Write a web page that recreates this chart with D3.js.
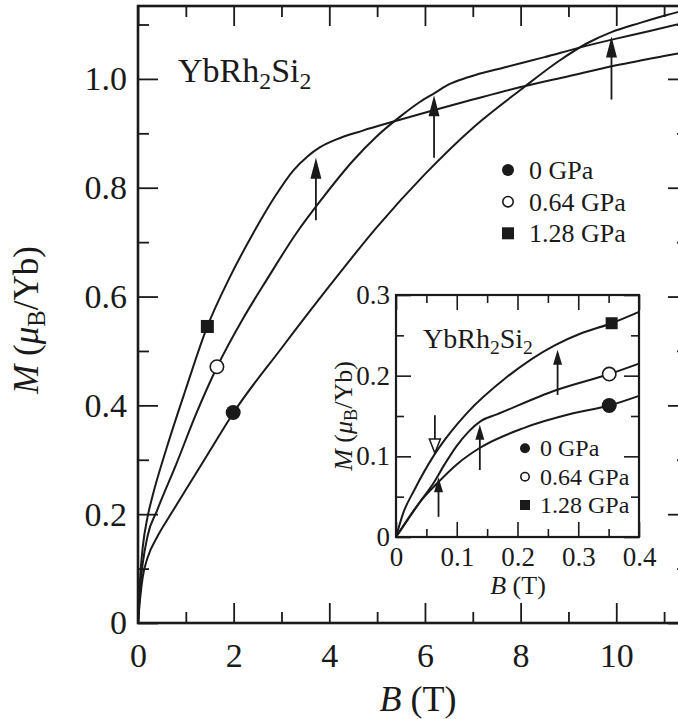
<!DOCTYPE html>
<html>
<head>
<meta charset="utf-8">
<script src="https://cdn.jsdelivr.net/npm/d3@7"></script>
<style>
body { margin: 0; background: #fff; }
svg { display: block; font-family: "Liberation Serif", "Times New Roman", serif; }
</style>
</head>
<body>
<svg id="chart" width="678" height="719"></svg>
<script>
// series labels
var pressures = ["0 GPa", "0.64 GPa", "1.28 GPa"];

// main panel: [B (T), M (muB/Yb)]
var main0 = [[0,0],[0.05,0.05],[0.1,0.085],[0.2,0.12],[0.4,0.158],[0.7,0.202],[1.0,0.245],[1.5,0.316],
	[2.0,0.387],[3.0,0.505],[4.0,0.619],[5.0,0.728],[6.0,0.825],[7.0,0.91],[8.0,0.98],[8.8,1.033],
	[9.4,1.066],[9.9,1.086],[10.5,1.103],[11.0,1.116],[11.5,1.128]];
var main064 = [[0,0],[0.05,0.07],[0.1,0.11],[0.2,0.16],[0.4,0.207],[0.8,0.292],[1.2,0.381],[1.65,0.47],
	[2.2,0.56],[2.7,0.632],[3.3,0.715],[3.85,0.78],[4.5,0.85],[5.0,0.895],[5.5,0.932],[5.9,0.958],
	[6.2,0.974],[6.5,0.99],[6.9,1.003],[7.7,1.022],[8.5,1.04],[9.25,1.058],[10,1.074],[10.7,1.088],[11.5,1.105]];
var main128 = [[0,0],[0.05,0.09],[0.1,0.14],[0.2,0.195],[0.3,0.232],[0.6,0.322],[1.0,0.43],[1.45,0.545],
	[1.9,0.632],[2.4,0.715],[2.85,0.782],[3.25,0.832],[3.55,0.858],[3.8,0.874],[4.15,0.889],[4.7,0.905],
	[5.4,0.923],[6.2,0.943],[7.0,0.962],[8.0,0.985],[9.0,1.005],[10.0,1.025],[11.0,1.042],[11.5,1.05]];
var mainPoints = [[1.99,0.387],[1.65,0.471],[1.45,0.545]];
// arrows: [B, M from, M to]
var mainArrows = [[3.72,0.74,0.855],[6.19,0.855,0.97],[9.9,0.962,1.078]];

// inset panel
var inset0 = [[0,0],[0.02,0.023],[0.04,0.044],[0.067,0.066],[0.1,0.09],[0.137,0.11],[0.21,0.135],
	[0.29,0.153],[0.351,0.163],[0.4,0.175]];
var inset064 = [[0,0],[0.02,0.022],[0.04,0.044],[0.061,0.066],[0.08,0.09],[0.1,0.113],[0.12,0.131],
	[0.14,0.144],[0.166,0.152],[0.263,0.182],[0.351,0.202],[0.4,0.215]];
var inset128 = [[0,0],[0.012,0.03],[0.03,0.058],[0.064,0.103],[0.09,0.13],[0.116,0.153],[0.182,0.198],
	[0.262,0.238],[0.303,0.252],[0.355,0.265],[0.4,0.279]];
var insetPoints = [[0.351,0.163],[0.351,0.202],[0.355,0.265]];
var insetArrowsUp = [[0.07,0.025,0.074],[0.138,0.083,0.139],[0.266,0.176,0.232]];
var insetArrowsDown = [[0.064,0.151,0.104]];

// tick values
var mainXMajor = [0,2,4,6,8,10], mainXMinor = [1,3,5,7,9,11];
var mainYMajor = [0,0.2,0.4,0.6,0.8,1.0], mainYMinor = [0.1,0.3,0.5,0.7,0.9,1.1];
var insetXMajor = [0,0.1,0.2,0.3,0.4], insetXMinor = [0.05,0.15,0.25,0.35];
var insetYMajor = [0,0.1,0.2,0.3], insetYMinor = [0.05,0.15,0.25];

var ink = "#1a1a1a";
var svg = d3.select("#chart");

var x = d3.scaleLinear().domain([0, 11.5]).range([138, 688]);
var y = d3.scaleLinear().domain([0, 1.134]).range([623, 6]);
var xi = d3.scaleLinear().domain([0, 0.4]).range([396, 639]);
var yi = d3.scaleLinear().domain([0, 0.3]).range([537, 295]);

function zeroFmt(d) { return d === 0 ? "0" : d3.format(".1f")(d); }

function styleAxis(g, size, w) {
	g.select(".domain").remove();
	g.selectAll("line").attr("stroke", ink).attr("stroke-width", w);
	g.selectAll("text").attr("font-size", size).attr("fill", ink)
		.attr("font-family", "'Liberation Serif', serif");
}

// frame with inward ticks on four sides
function frame(g, xs, ys, o) {
	var x0 = xs.range()[0], x1 = xs.range()[1], y0 = ys.range()[0], y1 = ys.range()[1];
	g.append("rect").attr("x", x0).attr("y", y1).attr("width", x1 - x0).attr("height", y0 - y1)
		.attr("fill", "#fff").attr("stroke", "none");

	g.append("g").attr("transform", "translate(0," + y0 + ")")
		.call(d3.axisBottom(xs).tickValues(o.xMajor).tickSize(-o.major).tickPadding(o.xPad).tickFormat(o.xFmt))
		.call(styleAxis, o.font, o.tickW);
	g.append("g").attr("transform", "translate(0," + y0 + ")")
		.call(d3.axisBottom(xs).tickValues(o.xMinor).tickSize(-o.minor).tickFormat(""))
		.call(styleAxis, o.font, o.tickW);
	g.append("g").attr("transform", "translate(0," + y1 + ")")
		.call(d3.axisTop(xs).tickValues(o.xMajor).tickSize(-o.major).tickFormat(""))
		.call(styleAxis, o.font, o.tickW);
	g.append("g").attr("transform", "translate(0," + y1 + ")")
		.call(d3.axisTop(xs).tickValues(o.xMinor).tickSize(-o.minor).tickFormat(""))
		.call(styleAxis, o.font, o.tickW);

	g.append("g").attr("transform", "translate(" + x0 + ",0)")
		.call(d3.axisLeft(ys).tickValues(o.yMajor).tickSize(-o.major).tickPadding(o.yPad).tickFormat(zeroFmt))
		.call(styleAxis, o.font, o.tickW);
	g.append("g").attr("transform", "translate(" + x0 + ",0)")
		.call(d3.axisLeft(ys).tickValues(o.yMinor).tickSize(-o.minor).tickFormat(""))
		.call(styleAxis, o.font, o.tickW);
	g.append("g").attr("transform", "translate(" + x1 + ",0)")
		.call(d3.axisRight(ys).tickValues(o.yMajor).tickSize(-o.major).tickFormat(""))
		.call(styleAxis, o.font, o.tickW);
	g.append("g").attr("transform", "translate(" + x1 + ",0)")
		.call(d3.axisRight(ys).tickValues(o.yMinor).tickSize(-o.minor).tickFormat(""))
		.call(styleAxis, o.font, o.tickW);

	g.append("rect").attr("x", x0).attr("y", y1).attr("width", x1 - x0).attr("height", y0 - y1)
		.attr("fill", "none").attr("stroke", ink).attr("stroke-width", o.frameW);
}

function curves(g, xs, ys, sets) {
	var line = d3.line()
		.x(function (d) { return xs(d[0]); })
		.y(function (d) { return ys(d[1]); })
		.curve(d3.curveMonotoneX);
	sets.forEach(function (s) {
		g.append("path").datum(s).attr("d", line)
			.attr("fill", "none").attr("stroke", ink).attr("stroke-width", 2);
	});
}

// kind: 0 filled circle, 1 open circle, 2 filled square
function marker(g, kind, cx, cy, s) {
	if (kind === 2) {
		g.append("rect").attr("x", cx - s / 2).attr("y", cy - s / 2).attr("width", s).attr("height", s)
			.attr("fill", ink);
	} else {
		g.append("circle").attr("cx", cx).attr("cy", cy).attr("r", s / 2 - (kind ? 0.8 : 0))
			.attr("fill", kind ? "#fff" : ink).attr("stroke", ink).attr("stroke-width", kind ? 1.6 : 0);
	}
}

function arrowUp(g, px, pFrom, pTip, len, w) {
	g.append("line").attr("x1", px).attr("x2", px).attr("y1", pFrom).attr("y2", pTip + len * 0.8)
		.attr("stroke", ink).attr("stroke-width", 1.8);
	g.append("path").attr("d", "M" + px + "," + pTip + "L" + (px - w / 2) + "," + (pTip + len) +
		"L" + (px + w / 2) + "," + (pTip + len) + "Z").attr("fill", ink);
}

function arrowDownOpen(g, px, pFrom, pTip, len, w) {
	g.append("line").attr("x1", px).attr("x2", px).attr("y1", pFrom).attr("y2", pTip - len)
		.attr("stroke", ink).attr("stroke-width", 1.8);
	g.append("path").attr("d", "M" + px + "," + pTip + "L" + (px - w / 2) + "," + (pTip - len) +
		"L" + (px + w / 2) + "," + (pTip - len) + "Z")
		.attr("fill", "#fff").attr("stroke", ink).attr("stroke-width", 1.5);
}

function formula(g, px, py, size) {
	var t = g.append("text").attr("x", px).attr("y", py).attr("font-size", size).attr("fill", ink);
	t.append("tspan").text("YbRh");
	t.append("tspan").attr("font-size", size * 0.7).attr("dy", size * 0.2).text("2");
	t.append("tspan").attr("dy", -size * 0.2).text("Si");
	t.append("tspan").attr("font-size", size * 0.7).attr("dy", size * 0.2).text("2");
}

function yTitle(g, px, py, size) {
	var t = g.append("text").attr("transform", "translate(" + px + "," + py + ") rotate(-90)")
		.attr("text-anchor", "middle").attr("font-size", size).attr("fill", ink);
	t.append("tspan").attr("font-style", "italic").text("M");
	t.append("tspan").text(" (");
	t.append("tspan").attr("font-style", "italic").text("\u03bc");
	t.append("tspan").attr("font-size", size * 0.7).attr("dy", size * 0.2).text("B");
	t.append("tspan").attr("dy", -size * 0.2).text("/Yb)");
}

function xTitle(g, px, py, size) {
	var t = g.append("text").attr("x", px).attr("y", py).attr("text-anchor", "middle")
		.attr("font-size", size).attr("fill", ink);
	t.append("tspan").attr("font-style", "italic").text("B");
	t.append("tspan").text(" (T)");
}

function legend(g, px, tx, rows, size, ms) {
	pressures.forEach(function (p, i) {
		marker(g, i, px, rows[i], ms);
		g.append("text").attr("x", tx).attr("y", rows[i]).attr("dy", "0.34em")
			.attr("font-size", size).attr("fill", ink).text(p);
	});
}

// ---- main panel
var gm = svg.append("g");
frame(gm, x, y, {
	xMajor: mainXMajor, xMinor: mainXMinor, yMajor: mainYMajor, yMinor: mainYMinor,
	major: 20, minor: 11, xPad: 20, yPad: 11, font: 34, tickW: 1.8, frameW: 2.6,
	xFmt: d3.format("d")
});
curves(gm, x, y, [main0, main064, main128]);
mainPoints.forEach(function (d, i) { marker(gm, i, x(d[0]), y(d[1]), i === 2 ? 13 : 15); });
mainArrows.forEach(function (a) { arrowUp(gm, x(a[0]), y(a[1]), y(a[2]), 21, 11); });
formula(gm, 178, 82, 34);
legend(gm, 508, 529, [170, 201.7, 233.3], 26, 12);
yTitle(gm, 38, 320, 35);
xTitle(gm, 418, 711, 36);

// ---- inset panel
var gi = svg.append("g");
frame(gi, xi, yi, {
	xMajor: insetXMajor, xMinor: insetXMinor, yMajor: insetYMajor, yMinor: insetYMinor,
	major: 15, minor: 8, xPad: 10, yPad: 6, font: 27, tickW: 1.6, frameW: 2.2,
	xFmt: zeroFmt
});
curves(gi, xi, yi, [inset0, inset064, inset128]);
insetPoints.forEach(function (d, i) { marker(gi, i, xi(d[0]), yi(d[1]), i === 2 ? 12 : 15); });
insetArrowsUp.forEach(function (a) { arrowUp(gi, xi(a[0]), yi(a[1]), yi(a[2]), 15, 9); });
insetArrowsDown.forEach(function (a) { arrowDownOpen(gi, xi(a[0]), yi(a[1]), yi(a[2]), 14, 11); });
formula(gi, 423, 348, 28);
legend(gi, 525, 540, [448.3, 476.7, 505], 24, 10);
yTitle(gi, 352, 416, 26);
xTitle(gi, 518, 594, 26);
</script>
</body>
</html>
